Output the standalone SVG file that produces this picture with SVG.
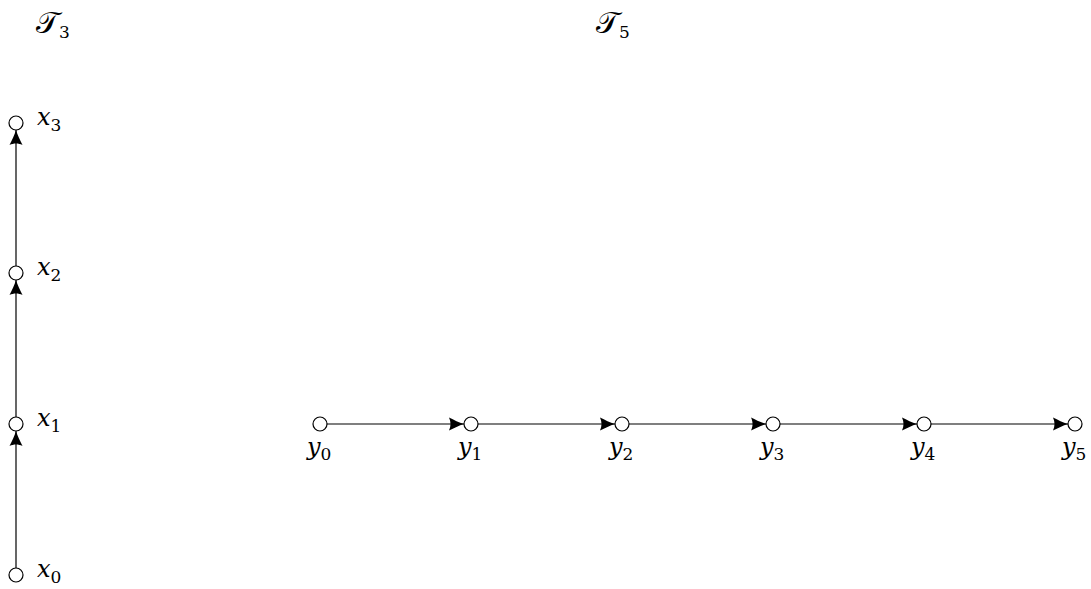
<svg xmlns="http://www.w3.org/2000/svg" width="1091" height="589" viewBox="0 0 1091 589">
<style>
.n{fill:#fff;stroke:#000;stroke-width:1.2}
.e{stroke:#000;stroke-width:1.2;fill:none}
.t{font-family:"DejaVu Serif",serif;font-style:italic;font-size:24px;fill:#000}
.s{font-family:"DejaVu Serif",serif;font-style:normal;font-size:17px}
.c{font-family:"DejaVu Serif",serif;font-size:30px;fill:#000}
</style>
<defs>
<marker id="ah" viewBox="-16 -7 17 14" refX="0" refY="0" markerWidth="17" markerHeight="14" markerUnits="userSpaceOnUse" orient="auto">
<path d="M0,0 C-5,-1.5 -10,-4 -15,-6.5 C-13,-2.5 -13,2.5 -15,6.5 C-10,4 -5,1.5 0,0 Z" fill="#000"/>
</marker>
</defs>
<text class="c" x="36" y="33">𝒯<tspan class="s" dy="5">3</tspan></text>
<text class="c" x="596" y="33">𝒯<tspan class="s" dy="5">5</tspan></text>
<g id="connectors">
<line class="e" x1="16" y1="568" x2="16" y2="431" marker-end="url(#ah)"/>
<line class="e" x1="16" y1="417" x2="16" y2="280" marker-end="url(#ah)"/>
<line class="e" x1="16" y1="266" x2="16" y2="130" marker-end="url(#ah)"/>
<line class="e" x1="327" y1="424" x2="464" y2="424" marker-end="url(#ah)"/>
<line class="e" x1="478" y1="424" x2="615" y2="424" marker-end="url(#ah)"/>
<line class="e" x1="629" y1="424" x2="766" y2="424" marker-end="url(#ah)"/>
<line class="e" x1="780" y1="424" x2="917" y2="424" marker-end="url(#ah)"/>
<line class="e" x1="931" y1="424" x2="1068" y2="424" marker-end="url(#ah)"/>
</g>
<g id="x0"><circle class="n" cx="16" cy="575" r="7"/><text class="t" x="37" y="577">x<tspan class="s" dy="6">0</tspan></text></g>
<g id="x1"><circle class="n" cx="16" cy="424" r="7"/><text class="t" x="37" y="426">x<tspan class="s" dy="6">1</tspan></text></g>
<g id="x2"><circle class="n" cx="16" cy="273" r="7"/><text class="t" x="37" y="275">x<tspan class="s" dy="6">2</tspan></text></g>
<g id="x3"><circle class="n" cx="16" cy="123" r="7"/><text class="t" x="37" y="125">x<tspan class="s" dy="6">3</tspan></text></g>
<g id="y0"><circle class="n" cx="320" cy="424" r="7"/><text class="t" x="307" y="455">y<tspan class="s" dy="5">0</tspan></text></g>
<g id="y1"><circle class="n" cx="471" cy="424" r="7"/><text class="t" x="458" y="455">y<tspan class="s" dy="5">1</tspan></text></g>
<g id="y2"><circle class="n" cx="622" cy="424" r="7"/><text class="t" x="609" y="455">y<tspan class="s" dy="5">2</tspan></text></g>
<g id="y3"><circle class="n" cx="773" cy="424" r="7"/><text class="t" x="760" y="455">y<tspan class="s" dy="5">3</tspan></text></g>
<g id="y4"><circle class="n" cx="924" cy="424" r="7"/><text class="t" x="911" y="455">y<tspan class="s" dy="5">4</tspan></text></g>
<g id="y5"><circle class="n" cx="1075" cy="424" r="7"/><text class="t" x="1062" y="455">y<tspan class="s" dy="5">5</tspan></text></g>
</svg>
